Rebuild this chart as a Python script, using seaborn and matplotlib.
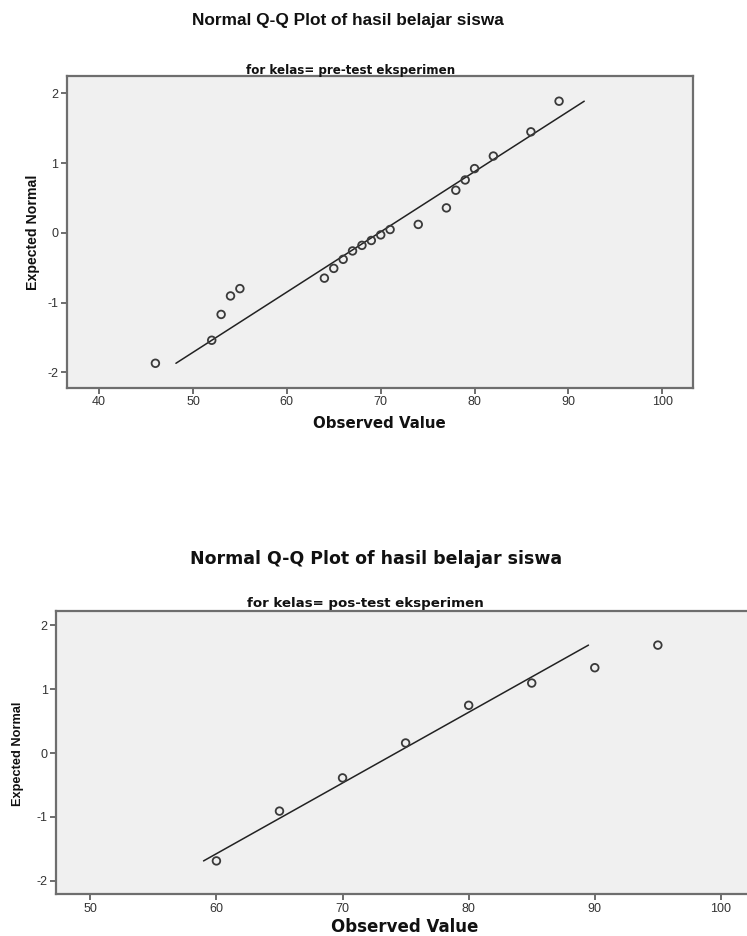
import numpy as np
import pandas as pd
import matplotlib
matplotlib.use('Agg')
import matplotlib.pyplot as plt
import seaborn as sns

# Data
pre_observed = [46, 52, 53, 54, 55, 64, 65, 66, 67, 68, 69,
                70, 71, 74, 77, 78, 79, 80, 82, 86, 89]
pre_expected = [-1.87, -1.54, -1.17, -0.905, -0.80, -0.65, -0.51, -0.38, -0.26, -0.18, -0.11,
                -0.03, 0.047, 0.12, 0.357, 0.61, 0.757, 0.92, 1.10, 1.447, 1.886]
pre_mean, pre_sd = 69.84, 11.58

post_observed = [60, 65, 70, 75, 80, 85, 90, 95]
post_expected = [-1.69, -0.91, -0.39, 0.157, 0.747, 1.096, 1.336, 1.69]
post_mean, post_sd = 74.24, 9.03

main_title = 'Normal Q-Q Plot of hasil belajar siswa'
pre_label = 'for kelas= pre-test eksperimen'
post_label = 'for kelas= pos-test eksperimen'

sns.set_style('white')
plt.rcParams['font.family'] = ['Liberation Sans', 'DejaVu Sans']

fig = plt.figure(figsize=(7.47, 9.36), dpi=100)
W, H = 747, 936
wide = ['DejaVu Sans']


def px_axes(left, top, right, bottom):
    return fig.add_axes([left / W, 1 - bottom / H, (right - left) / W, (bottom - top) / H])


def qq_panel(ax, observed, expected, mean, sd, xlim, ylim, xticks):
    df = pd.DataFrame({'obs': observed, 'exp': expected})
    z = np.array([min(expected), max(expected)])
    line = pd.DataFrame({'x': mean + sd * z, 'y': z})
    sns.lineplot(data=line, x='x', y='y', ax=ax, color='#222222', lw=1.1)
    sns.scatterplot(data=df, x='obs', y='exp', ax=ax, marker='o', s=30,
                    facecolor='none', edgecolor='#3a3a3a', linewidth=1.3, zorder=3)
    ax.set_facecolor('#f0f0f0')
    ax.set_xlim(*xlim)
    ax.set_ylim(*ylim)
    ax.set_xticks(xticks)
    ax.set_yticks([-2, -1, 0, 1, 2])
    ax.set_xticklabels([str(t) for t in xticks])
    ax.set_yticklabels(['-2', '-1', '0', '1', '2'])
    for s in ax.spines.values():
        s.set_color('#6e6e6e')
        s.set_linewidth(1.6)
    ax.tick_params(axis='both', bottom=True, left=True, direction='out', length=4.5,
                   width=1.2, color='#555555', labelsize=9, labelcolor='#333333', pad=1.5)
    ax.set_xlabel('')
    ax.set_ylabel('')


# top panel
ax1 = px_axes(66.7, 76.5, 693.3, 387.7)
qq_panel(ax1, pre_observed, pre_expected, pre_mean, pre_sd,
         (36.55, 103.3), (-2.22, 2.24), [40, 50, 60, 70, 80, 90, 100])
fig.text(347.5 / W, 1 - 20 / H, main_title, ha='center', va='center',
         fontsize=12.4, fontweight='bold', color='#111111')
fig.text(351 / W, 1 - 70.5 / H, pre_label, ha='center', va='center',
         fontsize=8.6, fontweight='bold', color='#111111', family=wide)
fig.text(379.7 / W, 1 - 423.3 / H, 'Observed Value', ha='center', va='center',
         fontsize=10.8, fontweight='bold', color='#111111', family=wide)
fig.text(33 / W, 1 - 232 / H, 'Expected Normal', ha='center', va='center', rotation=90,
         fontsize=10.2, fontweight='bold', color='#111111')

# bottom panel
ax2 = px_axes(56, 610.7, 760, 894.3)
qq_panel(ax2, post_observed, post_expected, post_mean, post_sd,
         (47.28, 103.1), (-2.213, 2.229), [50, 60, 70, 80, 90, 100])
fig.text(376 / W, 1 - 559.3 / H, main_title, ha='center', va='center',
         fontsize=12.5, fontweight='bold', color='#111111', family=wide)
fig.text(365 / W, 1 - 603.3 / H, post_label, ha='center', va='center',
         fontsize=9.6, fontweight='bold', color='#111111', family=wide)
fig.text(405 / W, 1 - 927.5 / H, 'Observed Value', ha='center', va='center',
         fontsize=12, fontweight='bold', color='#111111', family=wide)
fig.text(18 / W, 1 - 753.5 / H, 'Expected Normal', ha='center', va='center', rotation=90,
         fontsize=9.2, fontweight='bold', color='#111111')

fig.savefig('out.png', dpi=100, facecolor='white')
